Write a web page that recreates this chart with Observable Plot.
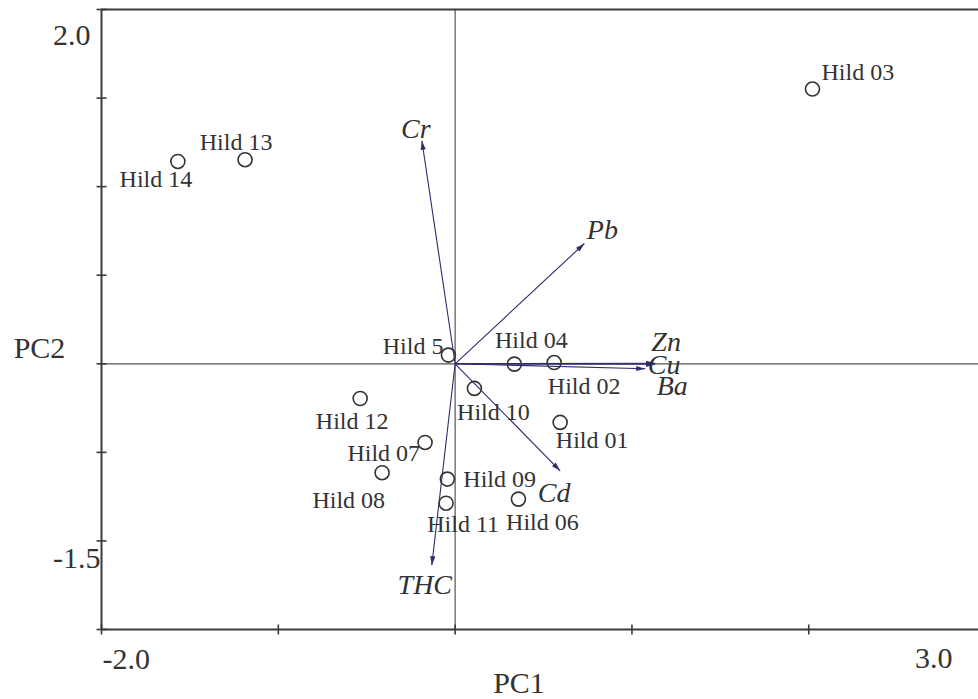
<!DOCTYPE html>
<html><head><meta charset="utf-8">
<script src="https://cdn.jsdelivr.net/npm/d3@7"></script>
<script src="https://cdn.jsdelivr.net/npm/@observablehq/plot@0.6"></script>
<style>body{margin:0;background:#fff;} svg{display:block;}</style>
</head><body><div id="chart"></div>
<script>
// ---- data ----
const sampleNames = ["Hild 03","Hild 13","Hild 14","Hild 5","Hild 04","Hild 02","Hild 10","Hild 01","Hild 12","Hild 07","Hild 08","Hild 09","Hild 11","Hild 06"];
const samplePC1 = [2.021,-1.188,-1.568,-0.038,0.335,0.560,0.109,0.594,-0.537,-0.170,-0.413,-0.044,-0.051,0.358];
const samplePC2 = [1.551,1.152,1.142,0.049,-0.002,0.007,-0.139,-0.331,-0.196,-0.444,-0.615,-0.651,-0.787,-0.764];
const variableNames = ["Cr","Pb","Zn","Cu","Ba","Cd","THC"];
const variablePC1 = [-0.188,0.731,1.131,1.131,1.075,0.594,-0.132];
const variablePC2 = [1.259,0.679,0.003,-0.003,-0.028,-0.604,-1.137];
const xTicks = [-2,-1,0,1,2];
const yTicks = [-1.5,-1,-0.5,0,0.5,1,1.5,2];
const xEndLabels = ["-2.0","3.0"];
const yEndLabels = ["2.0","-1.5"];
const axisTitles = ["PC1","PC2"];
const xDomain = [-2.0, 2.96];
const yDomain = [-1.5, 2.0];

// ---- layout (label placement offsets, px) ----
const sampleLabelPos = {
  "Hild 03":[9,-17,"start"], "Hild 13":[-9,-17,"middle"], "Hild 14":[-22,18,"middle"],
  "Hild 5":[-5,-9,"end"], "Hild 04":[17,-24,"middle"], "Hild 02":[30,24,"middle"],
  "Hild 10":[19,24,"middle"], "Hild 01":[32,18,"middle"], "Hild 12":[-8,23,"middle"],
  "Hild 07":[-5,11,"end"], "Hild 08":[3,28,"end"], "Hild 09":[16,0,"start"],
  "Hild 11":[17,21,"middle"], "Hild 06":[24,23,"middle"]
};
const varLabelPos = {
  "Cr":[-6,-12], "Pb":[18,-13], "Zn":[11,-21], "Cu":[9,1], "Ba":[27,17], "Cd":[-6,22], "THC":[-7,20]
};

const W = 978, H = 699, mL = 101, mR = 0, mT = 9, mB = 70;
const sx = (W - mL - mR) / (xDomain[1] - xDomain[0]);
const sy = (H - mT - mB) / (yDomain[1] - yDomain[0]);

const samples = sampleNames.map((n,i) => ({name:n, x:samplePC1[i], y:samplePC2[i]}));
const variables = variableNames.map((n,i) => ({name:n, x:variablePC1[i], y:variablePC2[i]}));

const arrowHead = {draw(ctx){ ctx.moveTo(0,0); ctx.lineTo(-2.6,9); ctx.lineTo(2.6,9); ctx.closePath(); }};
const vTick = {draw(ctx){ ctx.moveTo(0,-5); ctx.lineTo(0,5); }};
const hTick = {draw(ctx){ ctx.moveTo(-5,0); ctx.lineTo(5,0); }};

const frameColor = "#3a3a3a";
const arrowColor = "#2e2b6e";
const textColor = "#333333";
const font = "Liberation Serif, Times New Roman, serif";

const marks = [
  // center lines
  Plot.ruleX([0], {stroke:"#555", strokeWidth:1.2}),
  Plot.ruleY([0], {stroke:"#555", strokeWidth:1.2}),
  // frame
  Plot.ruleX([xDomain[0]], {stroke:frameColor, strokeWidth:2}),
  Plot.ruleY([yDomain[0]], {stroke:frameColor, strokeWidth:2}),
  Plot.ruleY([yDomain[1]], {stroke:frameColor, strokeWidth:2}),
  // ticks
  Plot.dot(xTicks, {x:d=>d, y:()=>yDomain[0], symbol:vTick, r:5, fill:"none", stroke:frameColor, strokeWidth:1.6}),
  Plot.dot(yTicks, {x:()=>xDomain[0], y:d=>d, symbol:hTick, r:5, fill:"none", stroke:frameColor, strokeWidth:1.6}),
  // arrows
  Plot.link(variables, {x1:()=>0, y1:()=>0, x2:"x", y2:"y", stroke:arrowColor, strokeWidth:1.1}),
  Plot.dot(variables, {x:"x", y:"y", symbol:arrowHead, r:5, fill:arrowColor, stroke:"none",
    rotate: d => Math.atan2(d.x*sx, d.y*sy)*180/Math.PI}),
  // samples
  Plot.dot(samples, {x:"x", y:"y", r:7, fill:"none", stroke:"#333", strokeWidth:1.6}),
  // sample labels
  ...samples.map(s => {
    const [dx, dy, anchor] = sampleLabelPos[s.name];
    return Plot.text([s], {x:"x", y:"y", text:"name", textAnchor:anchor, lineAnchor:"middle",
      dx, dy, fill:textColor, fontSize:24, fontFamily:font});
  }),
  // variable labels
  ...variables.map(v => {
    const [dx, dy] = varLabelPos[v.name];
    return Plot.text([v], {x:"x", y:"y", text:"name", lineAnchor:"middle", dx, dy, fill:textColor,
      fontSize:28, fontStyle:"italic", fontFamily:font});
  }),
  // end labels and titles
  Plot.text([yEndLabels[0]], {frameAnchor:"top-left", textAnchor:"end", lineAnchor:"middle", dx:-11, dy:26, fontSize:30, fill:textColor, fontFamily:font}),
  Plot.text([yEndLabels[1]], {frameAnchor:"bottom-left", textAnchor:"end", lineAnchor:"middle", dx:-1, dy:-71, fontSize:30, fill:textColor, fontFamily:font}),
  Plot.text([xEndLabels[0]], {frameAnchor:"bottom-left", textAnchor:"start", lineAnchor:"middle", dx:1, dy:30, fontSize:30, fill:textColor, fontFamily:font}),
  Plot.text([xEndLabels[1]], {frameAnchor:"bottom-right", textAnchor:"end", lineAnchor:"middle", dx:-26, dy:29, fontSize:30, fill:textColor, fontFamily:font}),
  Plot.text([axisTitles[0]], {frameAnchor:"bottom", textAnchor:"middle", lineAnchor:"middle", dx:-21, dy:54, fontSize:30, fill:textColor, fontFamily:font}),
  Plot.text([axisTitles[1]], {frameAnchor:"left", textAnchor:"middle", lineAnchor:"middle", dx:-62, dy:29, fontSize:30, fill:textColor, fontFamily:font})
];

const chart = Plot.plot({
  width: W, height: H,
  marginLeft: mL, marginRight: mR, marginTop: mT, marginBottom: mB,
  x: {domain: xDomain, axis: null},
  y: {domain: yDomain, axis: null},
  style: {background:"#fff", fontFamily: font, overflow:"visible"},
  marks
});
document.getElementById("chart").appendChild(chart);
</script>
</body></html>
